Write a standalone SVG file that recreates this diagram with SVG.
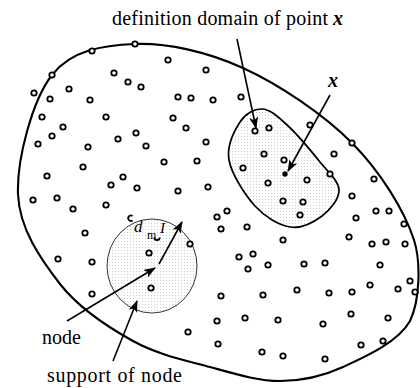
<svg xmlns="http://www.w3.org/2000/svg" width="420" height="388" viewBox="0 0 420 388">
<defs>
<pattern id="dots" width="3" height="3" patternUnits="userSpaceOnUse">
<rect x="1" y="1" width="0.8" height="0.8" fill="#b4b4b4"/>
</pattern>
<marker id="ah" markerWidth="12" markerHeight="9" refX="11" refY="4.5" orient="auto" markerUnits="userSpaceOnUse">
<path d="M0,0 L12,4.5 L0,9 L3,4.5 z" fill="#000"/>
</marker>
<style>
.n{fill:#fff;stroke:#000;stroke-width:1.8}
.c{stroke:#000;stroke-width:1.6;fill:none;marker-end:url(#ah)}
.t{font-family:"Liberation Serif","Times New Roman",serif;font-size:20px;fill:#000}
.m{font-family:"Liberation Serif","Times New Roman",serif;font-style:italic;fill:#000}
</style>
</defs>
<rect width="420" height="388" fill="#fff"/>
<g id="domain">
<path d="M18,194 C16.7,159.2 32.5,100 52,75 C71.5,50 103.2,45.2 135,44 C166.8,42.8 206.8,51.5 243,68 C279.2,84.5 323.5,114.3 352,143 C380.5,171.7 404.3,210.3 414,240 C421,262 420,300 410,321 C398.2,342.2 364.7,357 343,367 C321.3,377 302.2,381 280,381 C257.8,381 234.5,373.7 210,367 C185.5,360.3 158,354.8 133,341 C108,327.2 79.2,308.5 60,284 C40.8,259.5 19.3,228.8 18,194 Z" fill="none" stroke="#000" stroke-width="2.1"/>
</g>
<g id="definition-domain">
<path d="M262,109 C269.7,109.3 276.3,115.2 286,124 C295.7,132.8 311.2,151 320,162 C328.8,173 338.7,181 339,190 C339.3,199 330.2,209.8 322,216 C313.8,222.2 301.2,228.7 290,227 C278.8,225.3 265.2,217.2 255,206 C244.8,194.8 231.5,174 229,160 C226.5,146 234.5,130.5 240,122 C245.5,113.5 254.3,108.7 262,109 Z" fill="url(#dots)" stroke="#000" stroke-width="1.7"/>
</g>
<g id="support">
<ellipse cx="152" cy="266" rx="45" ry="47" fill="url(#dots)" stroke="#000" stroke-width="0.8"/>
</g>
<g id="nodes">
<circle class="n" cx="135" cy="44" r="2.7"/>
<circle class="n" cx="92" cy="51" r="2.7"/>
<circle class="n" cx="52" cy="75" r="2.7"/>
<circle class="n" cx="34" cy="93" r="2.7"/>
<circle class="n" cx="168" cy="60" r="2.7"/>
<circle class="n" cx="206" cy="70" r="2.7"/>
<circle class="n" cx="114" cy="73" r="2.7"/>
<circle class="n" cx="128" cy="82" r="2.7"/>
<circle class="n" cx="141" cy="87" r="2.7"/>
<circle class="n" cx="69" cy="89" r="2.7"/>
<circle class="n" cx="50" cy="99" r="2.7"/>
<circle class="n" cx="90" cy="100" r="2.7"/>
<circle class="n" cx="178" cy="97" r="2.7"/>
<circle class="n" cx="191" cy="98" r="2.7"/>
<circle class="n" cx="42" cy="117" r="2.7"/>
<circle class="n" cx="106" cy="117" r="2.7"/>
<circle class="n" cx="173" cy="118" r="2.7"/>
<circle class="n" cx="63" cy="127" r="2.7"/>
<circle class="n" cx="52" cy="136" r="2.7"/>
<circle class="n" cx="186" cy="128" r="2.7"/>
<circle class="n" cx="136" cy="133" r="2.7"/>
<circle class="n" cx="118" cy="139" r="2.7"/>
<circle class="n" cx="146" cy="146" r="2.7"/>
<circle class="n" cx="38" cy="144" r="2.7"/>
<circle class="n" cx="206" cy="142" r="2.7"/>
<circle class="n" cx="88" cy="147" r="2.7"/>
<circle class="n" cx="164" cy="162" r="2.7"/>
<circle class="n" cx="197" cy="161" r="2.7"/>
<circle class="n" cx="83" cy="167" r="2.7"/>
<circle class="n" cx="47" cy="176" r="2.7"/>
<circle class="n" cx="123" cy="177" r="2.7"/>
<circle class="n" cx="111" cy="185" r="2.7"/>
<circle class="n" cx="137" cy="188" r="2.7"/>
<circle class="n" cx="178" cy="191" r="2.7"/>
<circle class="n" cx="208" cy="187" r="2.7"/>
<circle class="n" cx="213" cy="100" r="2.7"/>
<circle class="n" cx="241" cy="97" r="2.7"/>
<circle class="n" cx="255" cy="131" r="2.7"/>
<circle class="n" cx="269" cy="128" r="2.7"/>
<circle class="n" cx="310" cy="125" r="2.7"/>
<circle class="n" cx="352" cy="143" r="2.7"/>
<circle class="n" cx="264" cy="154" r="2.7"/>
<circle class="n" cx="284" cy="160" r="2.7"/>
<circle class="n" cx="243" cy="168" r="2.7"/>
<circle class="n" cx="334" cy="154" r="2.7"/>
<circle class="n" cx="307" cy="180" r="2.7"/>
<circle class="n" cx="330" cy="174" r="2.7"/>
<circle class="n" cx="374" cy="179" r="2.7"/>
<circle class="n" cx="268" cy="183" r="2.7"/>
<circle class="n" cx="283" cy="201" r="2.7"/>
<circle class="n" cx="303" cy="202" r="2.7"/>
<circle class="n" cx="300" cy="215" r="2.7"/>
<circle class="n" cx="352" cy="196" r="2.7"/>
<circle class="n" cx="227" cy="211" r="2.7"/>
<circle class="n" cx="217" cy="217" r="2.7"/>
<circle class="n" cx="221" cy="229" r="2.7"/>
<circle class="n" cx="247" cy="227" r="2.7"/>
<circle class="n" cx="283" cy="240" r="2.7"/>
<circle class="n" cx="376" cy="211" r="2.7"/>
<circle class="n" cx="389" cy="211" r="2.7"/>
<circle class="n" cx="356" cy="218" r="2.7"/>
<circle class="n" cx="404" cy="224" r="2.7"/>
<circle class="n" cx="349" cy="237" r="2.7"/>
<circle class="n" cx="372" cy="244" r="2.7"/>
<circle class="n" cx="386" cy="242" r="2.7"/>
<circle class="n" cx="405" cy="244" r="2.7"/>
<circle class="n" cx="239" cy="257" r="2.7"/>
<circle class="n" cx="253" cy="254" r="2.7"/>
<circle class="n" cx="248" cy="269" r="2.7"/>
<circle class="n" cx="268" cy="265" r="2.7"/>
<circle class="n" cx="304" cy="264" r="2.7"/>
<circle class="n" cx="325" cy="263" r="2.7"/>
<circle class="n" cx="380" cy="265" r="2.7"/>
<circle class="n" cx="410" cy="281" r="2.7"/>
<circle class="n" cx="415" cy="292" r="2.7"/>
<circle class="n" cx="398" cy="289" r="2.7"/>
<circle class="n" cx="370" cy="285" r="2.7"/>
<circle class="n" cx="352" cy="292" r="2.7"/>
<circle class="n" cx="329" cy="293" r="2.7"/>
<circle class="n" cx="297" cy="290" r="2.7"/>
<circle class="n" cx="263" cy="295" r="2.7"/>
<circle class="n" cx="221" cy="296" r="2.7"/>
<circle class="n" cx="217" cy="321" r="2.7"/>
<circle class="n" cx="245" cy="318" r="2.7"/>
<circle class="n" cx="278" cy="320" r="2.7"/>
<circle class="n" cx="323" cy="324" r="2.7"/>
<circle class="n" cx="351" cy="314" r="2.7"/>
<circle class="n" cx="388" cy="318" r="2.7"/>
<circle class="n" cx="218" cy="344" r="2.7"/>
<circle class="n" cx="262" cy="352" r="2.7"/>
<circle class="n" cx="283" cy="356" r="2.7"/>
<circle class="n" cx="325" cy="359" r="2.7"/>
<circle class="n" cx="361" cy="345" r="2.7"/>
<circle class="n" cx="383" cy="341" r="2.7"/>
<circle class="n" cx="33" cy="200" r="2.7"/>
<circle class="n" cx="57" cy="198" r="2.7"/>
<circle class="n" cx="73" cy="209" r="2.7"/>
<circle class="n" cx="106" cy="205" r="2.7"/>
<circle class="n" cx="85" cy="233" r="2.7"/>
<circle class="n" cx="58" cy="259" r="2.7"/>
<circle class="n" cx="92" cy="262" r="2.7"/>
<circle class="n" cx="92" cy="294" r="2.7"/>
<circle class="n" cx="149" cy="253" r="2.7"/>
<circle class="n" cx="190" cy="244" r="2.7"/>
<circle class="n" cx="151" cy="288" r="2.7"/>
<circle class="n" cx="188" cy="332" r="2.7"/>
<path d="M132.5,216 A2.7,2.7 0 1 0 132.5,220.4" fill="none" stroke="#000" stroke-width="1.8"/>
<path d="M154.3,237.5 A2.7,2.7 0 0 0 159.7,237.5" fill="none" stroke="#000" stroke-width="1.8"/>
<circle id="point-x" cx="285" cy="174" r="2.7" fill="#000"/>
</g>
<g id="connectors">
<line class="c" x1="237" y1="39" x2="256" y2="128"/>
<line class="c" x1="330" y1="95" x2="288" y2="171"/>
<line class="c" x1="67" y1="321" x2="155" y2="268"/>
<line class="c" x1="113" y1="361" x2="137" y2="301"/>
<line class="c" x1="159" y1="264" x2="182" y2="222"/>
</g>
<g id="labels">
<text class="t" x="112" y="25" textLength="216" lengthAdjust="spacing">definition domain of point</text>
<text class="m" x="333" y="25" font-size="20" font-weight="bold">x</text>
<text class="m" x="328" y="87" font-size="20" font-weight="bold">x</text>
<text class="m" x="134" y="232" font-size="17">d</text>
<text x="147" y="239" font-family="Liberation Serif, serif" font-size="12">m</text>
<text class="m" x="160" y="233" font-size="15">I</text>
<text class="t" x="42" y="344">node</text>
<text class="t" x="47" y="382" textLength="135" lengthAdjust="spacing">support of node</text>
</g>
</svg>
